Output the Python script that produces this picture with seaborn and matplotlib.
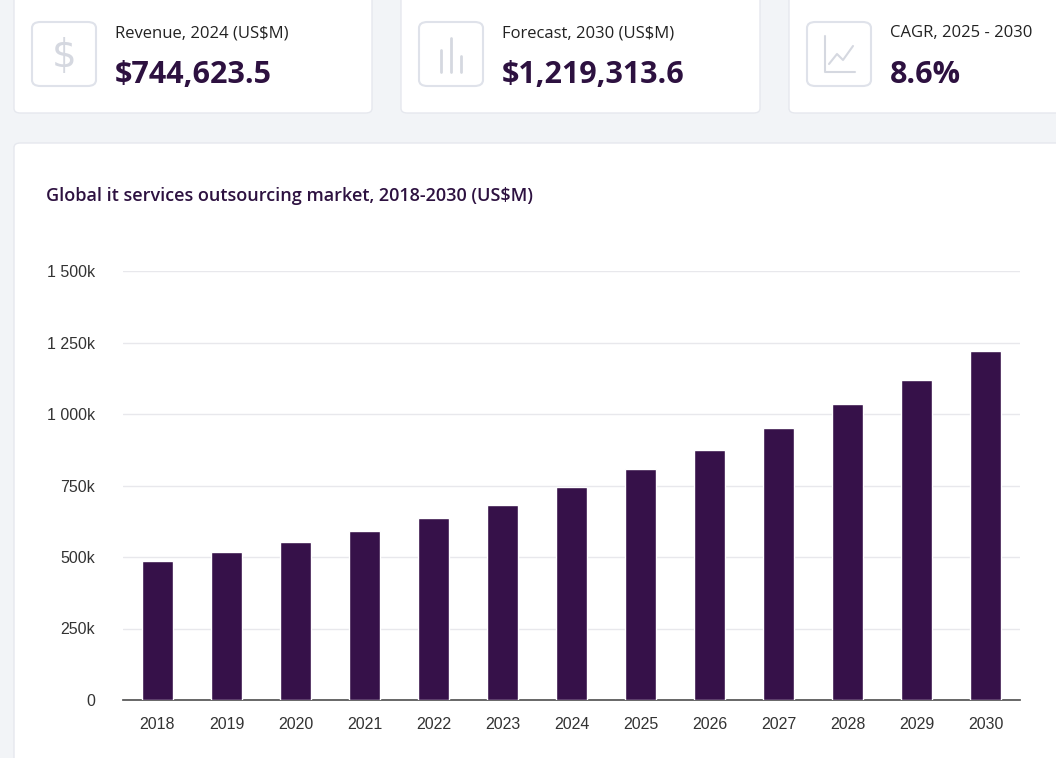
import matplotlib.pyplot as plt
import seaborn as sns
import pandas as pd
from matplotlib.patches import FancyBboxPatch
from matplotlib.ticker import FuncFormatter

years = [str(y) for y in range(2018, 2031)]
revenue = [486, 518, 553, 591, 636, 682, 744.6, 808, 874, 951, 1035, 1119, 1219.3]  # in thousands of US$M

card_labels = ["Revenue, 2024 (US$M)", "Forecast, 2030 (US$M)", "CAGR, 2025 - 2030"]
card_values = ["$744,623.5", "$1,219,313.6", "8.6%"]

W, H = 1056, 758
sns.set_theme(style="white")
plt.rcParams['font.family'] = ['Open Sans', 'DejaVu Sans']
fig = plt.figure(figsize=(W / 100, H / 100), dpi=100)
fig.patch.set_facecolor("#f2f4f7")


def px(x, y):
    return x / W, 1 - y / H


def rbox(x0, y0, x1, y1, fc="white", ec="#e6e8ee", lw=1, r=0.006):
    bx, by = px(x0, y1)
    p = FancyBboxPatch((bx, by), (x1 - x0) / W, (y1 - y0) / H,
                       boxstyle=f"round,pad=0,rounding_size={r}",
                       transform=fig.transFigure, fc=fc, ec=ec, lw=lw, zorder=0)
    fig.add_artist(p)


# top cards
cards_x = [(14, 372), (401, 760), (789, 1070)]
for i, (x0, x1) in enumerate(cards_x):
    rbox(x0, -10, x1, 113)
    rbox(x0 + 18, 22, x0 + 82, 86, fc="white", ec="#dfe2ea", lw=1.5, r=0.008)
    cx, cy = px(x0 + 50, 56)
    if i == 0:
        fig.text(cx, cy, "$", ha="center", va="center", fontsize=28,
                 color="#d5d8e0", family="DejaVu Sans")
    elif i == 1:
        for dx, h in [(-10, 22), (0, 34), (10, 16)]:
            fig.add_artist(plt.Line2D([px(x0 + 50 + dx, 0)[0]] * 2,
                                      [px(0, 72)[1], px(0, 72 - h)[1]],
                                      transform=fig.transFigure, color="#d5d8e0", lw=2))
    else:
        xs = [x0 + 36, x0 + 36, x0 + 66]
        ys = [36, 72, 72]
        fig.add_artist(plt.Line2D([px(a, 0)[0] for a in xs], [px(0, b)[1] for b in ys],
                                  transform=fig.transFigure, color="#d5d8e0", lw=1.5))
        xs = [x0 + 40, x0 + 48, x0 + 54, x0 + 64]
        ys = [64, 54, 60, 46]
        fig.add_artist(plt.Line2D([px(a, 0)[0] for a in xs], [px(0, b)[1] for b in ys],
                                  transform=fig.transFigure, color="#d5d8e0", lw=1.5))
    lx, ly = px(x0 + 101, 33)
    fig.text(lx, ly, card_labels[i], ha="left", va="center", fontsize=12, color="#222222")
    vx, vy = px(x0 + 101, 75)
    fig.text(vx, vy, card_values[i], ha="left", va="center", fontsize=22,
             fontweight="bold", color="#2d1140")

# chart panel
rbox(14, 143, 1080, 800)
tx, ty = px(46, 196)
fig.text(tx, ty, "Global it services outsourcing market, 2018-2030 (US$M)",
         ha="left", va="center", fontsize=13, fontweight="semibold", color="#2d1140")

ax = fig.add_axes([123 / W, 1 - 700 / H, 897 / W, 429 / H])
ax.set_zorder(5)
df = pd.DataFrame({"year": years, "revenue": revenue})
sns.barplot(data=df, x="year", y="revenue", color="#361149", saturation=1,
            width=0.46, ax=ax, zorder=3)
ax.set_ylim(0, 1500)
ax.set_yticks([0, 250, 500, 750, 1000, 1250, 1500])
ax.yaxis.set_major_formatter(FuncFormatter(
    lambda v, _: "0" if v == 0 else f"{int(v):,}".replace(",", " ") + "k"))
ax.grid(axis="y", color="#e8e8ec", lw=1, zorder=0)
ax.set_axisbelow(True)
ax.set_facecolor("white")
for s in ["top", "right", "left"]:
    ax.spines[s].set_visible(False)
ax.spines["bottom"].set_color("#555555")
ax.set_xlabel("")
ax.set_ylabel("")
ax.tick_params(axis="both", length=0, labelsize=11.5, colors="#333333")
ax.tick_params(axis="y", pad=20)
ax.tick_params(axis="x", pad=12)
for t in ax.get_xticklabels() + ax.get_yticklabels():
    t.set_family(["Liberation Sans", "DejaVu Sans"])

fig.savefig("out.png", dpi=100, facecolor=fig.get_facecolor())
